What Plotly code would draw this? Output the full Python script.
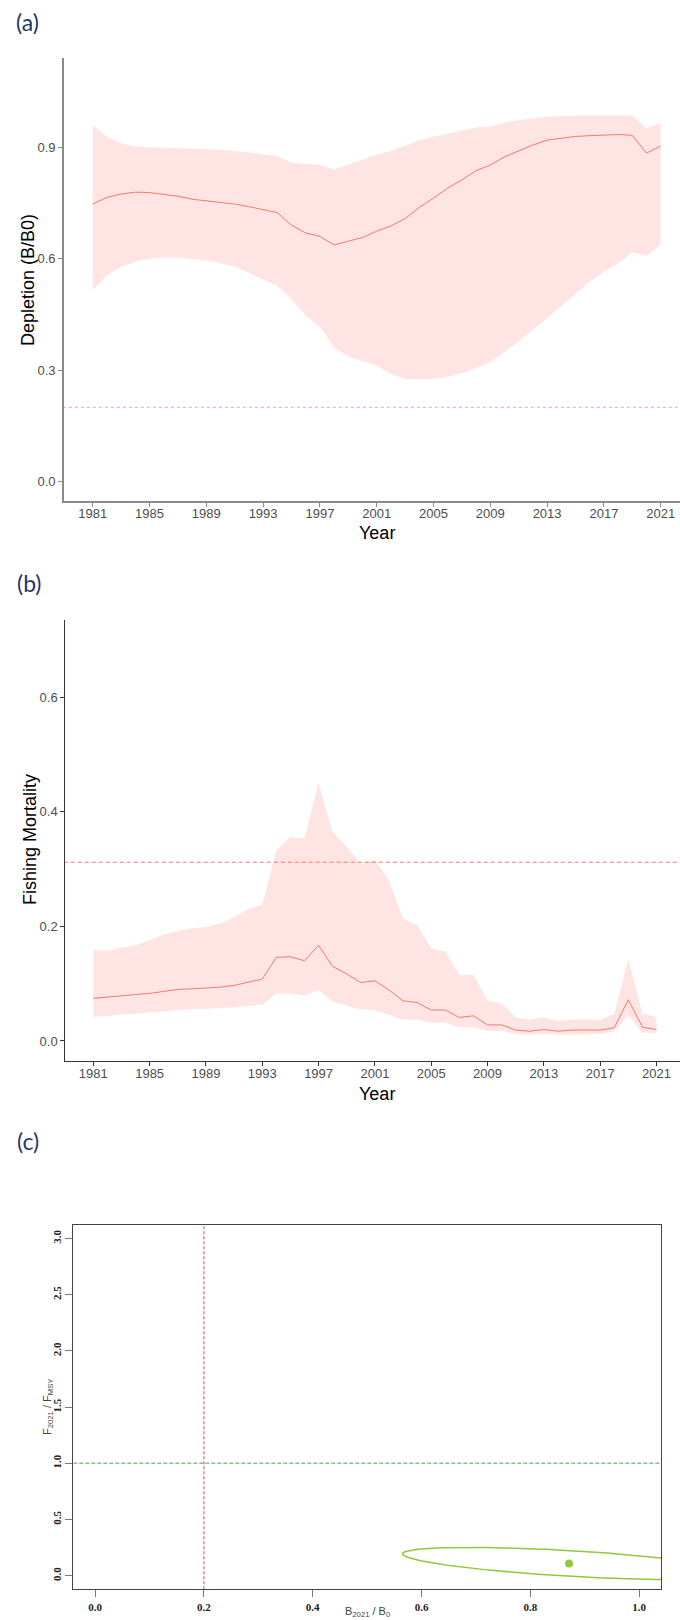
import numpy as np
import plotly.graph_objects as go

# ---------------- data ----------------
years = list(range(1981, 2022))

# (a) depletion B/B0: median and 95% interval
dep_mid = [0.747, 0.765, 0.774, 0.779, 0.778, 0.774, 0.768, 0.760, 0.756, 0.752,
           0.747, 0.740, 0.732, 0.724, 0.690, 0.669, 0.660, 0.637, 0.647, 0.657,
           0.674, 0.688, 0.708, 0.738, 0.763, 0.790, 0.812, 0.837, 0.852, 0.874,
           0.890, 0.906, 0.919, 0.925, 0.929, 0.931, 0.932, 0.934, 0.932, 0.884,
           0.903]
dep_hi = [0.960, 0.928, 0.910, 0.902, 0.900, 0.899, 0.898, 0.897, 0.896, 0.893,
          0.890, 0.886, 0.882, 0.876, 0.858, 0.855, 0.852, 0.840, 0.853, 0.866,
          0.880, 0.890, 0.903, 0.918, 0.928, 0.937, 0.946, 0.953, 0.956, 0.966,
          0.973, 0.978, 0.982, 0.984, 0.985, 0.985, 0.985, 0.985, 0.985, 0.951,
          0.966]
dep_lo = [0.516, 0.555, 0.578, 0.592, 0.600, 0.603, 0.603, 0.600, 0.595, 0.588,
          0.578, 0.562, 0.543, 0.527, 0.490, 0.448, 0.417, 0.362, 0.337, 0.325,
          0.312, 0.290, 0.276, 0.276, 0.276, 0.282, 0.292, 0.306, 0.322, 0.348,
          0.377, 0.408, 0.440, 0.472, 0.505, 0.538, 0.565, 0.588, 0.617, 0.608,
          0.637]
dep_ref = 0.2

# (b) fishing mortality: median and 95% interval
f_mid = [0.0745, 0.077, 0.079, 0.081, 0.083, 0.087, 0.090, 0.091, 0.092, 0.094,
         0.097, 0.103, 0.108, 0.146, 0.147, 0.140, 0.167, 0.130, 0.117, 0.102,
         0.105, 0.089, 0.070, 0.067, 0.054, 0.054, 0.041, 0.044, 0.028, 0.028,
         0.019, 0.017, 0.020, 0.017, 0.019, 0.019, 0.019, 0.023, 0.072, 0.024,
         0.020]
f_hi = [0.159, 0.157, 0.163, 0.167, 0.176, 0.186, 0.192, 0.197, 0.199, 0.205,
        0.216, 0.230, 0.238, 0.333, 0.356, 0.354, 0.450, 0.365, 0.339, 0.310,
        0.317, 0.280, 0.214, 0.202, 0.162, 0.156, 0.115, 0.115, 0.070, 0.066,
        0.041, 0.037, 0.041, 0.035, 0.038, 0.038, 0.037, 0.047, 0.143, 0.048,
        0.042]
f_lo = [0.042, 0.044, 0.046, 0.048, 0.050, 0.053, 0.055, 0.056, 0.056, 0.057,
        0.059, 0.061, 0.063, 0.083, 0.083, 0.079, 0.089, 0.069, 0.062, 0.055,
        0.054, 0.045, 0.037, 0.037, 0.032, 0.032, 0.024, 0.024, 0.018, 0.018,
        0.012, 0.011, 0.013, 0.011, 0.012, 0.012, 0.012, 0.017, 0.045, 0.0145,
        0.0145]
f_ref = 0.312

# (c) Kobe-style status: point estimate and confidence ellipse parameters
b_ratio = 0.871
f_ratio = 0.110
b_sd = 0.306
f_sd = 0.143
bf_corr = -0.6
b_limit = 0.2
f_limit = 1.0

year_ticks = list(range(1981, 2022, 4))

# ---------------- styling ----------------
W, H = 680, 1620
RED = "#F8766D"
BAND = "rgba(248,118,109,0.19)"
TICK_FONT = dict(family="Liberation Sans, Arial, sans-serif", size=13, color="#4D4D4D")
TITLE_FONT = dict(family="Liberation Sans, Arial, sans-serif", size=18, color="#000000")
PANEL_FONT = dict(family="Lato, Open Sans, sans-serif", size=23, color="#1F3864")
SERIF_TICK = dict(family="Liberation Serif, Times New Roman, serif", size=11,
                  color="#222222", weight="bold")


def px_x(p):
    return p / W


def px_y(p):
    return 1 - p / H


fig = go.Figure()

# ---- panel (a) ----
fig.add_trace(go.Scatter(x=years, y=dep_lo, mode="lines", line=dict(width=0),
                         xaxis="x", yaxis="y", hoverinfo="skip", showlegend=False))
fig.add_trace(go.Scatter(x=years, y=dep_hi, mode="lines", line=dict(width=0),
                         fill="tonexty", fillcolor=BAND,
                         xaxis="x", yaxis="y", hoverinfo="skip", showlegend=False))
fig.add_trace(go.Scatter(x=years, y=dep_mid, mode="lines",
                         line=dict(color=RED, width=1),
                         xaxis="x", yaxis="y", showlegend=False))
fig.add_trace(go.Scatter(x=[1978.9, 2022.4], y=[dep_ref, dep_ref], mode="lines",
                         line=dict(color="rgba(248,118,109,0.55)", width=1.2, dash="3px,3px"),
                         xaxis="x", yaxis="y", hoverinfo="skip", showlegend=False))

# ---- panel (b) ----
fig.add_trace(go.Scatter(x=years, y=f_lo, mode="lines", line=dict(width=0),
                         xaxis="x2", yaxis="y2", hoverinfo="skip", showlegend=False))
fig.add_trace(go.Scatter(x=years, y=f_hi, mode="lines", line=dict(width=0),
                         fill="tonexty", fillcolor=BAND,
                         xaxis="x2", yaxis="y2", hoverinfo="skip", showlegend=False))
fig.add_trace(go.Scatter(x=years, y=f_mid, mode="lines",
                         line=dict(color=RED, width=1),
                         xaxis="x2", yaxis="y2", showlegend=False))
fig.add_trace(go.Scatter(x=[1978.9, 2022.8], y=[f_ref, f_ref], mode="lines",
                         line=dict(color=RED, width=1, dash="4px,3px"),
                         xaxis="x2", yaxis="y2", hoverinfo="skip", showlegend=False))

# ---- panel (c) ----
t = np.linspace(0, 2 * np.pi, 240)
ell_x = b_ratio + b_sd * np.cos(t)
ell_y = f_ratio + f_sd * (bf_corr * np.cos(t) + np.sqrt(1 - bf_corr ** 2) * np.sin(t))
fig.add_trace(go.Scatter(x=[b_limit, b_limit], y=[-0.12, 3.12], mode="lines",
                         line=dict(color="#F08080", width=1.5, dash="3px,2px"),
                         xaxis="x3", yaxis="y3", hoverinfo="skip", showlegend=False))
fig.add_trace(go.Scatter(x=[-0.04, 1.04], y=[f_limit, f_limit], mode="lines",
                         line=dict(color="#8FBC8F", width=1.5, dash="4px,2px"),
                         xaxis="x3", yaxis="y3", hoverinfo="skip", showlegend=False))
fig.add_trace(go.Scatter(x=ell_x, y=ell_y, mode="lines",
                         line=dict(color="#92C83E", width=1.5),
                         xaxis="x3", yaxis="y3", hoverinfo="skip", showlegend=False))
fig.add_trace(go.Scatter(x=[b_ratio], y=[f_ratio], mode="markers",
                         marker=dict(color="#92C83E", size=8),
                         xaxis="x3", yaxis="y3", showlegend=False))

common_year_axis = dict(tickmode="array", tickvals=year_ticks,
                        ticktext=[str(y) for y in year_ticks],
                        ticks="outside", ticklen=4, ticklabelstandoff=-4,
                        showgrid=False, zeroline=False,
                        showline=True, tickfont=TICK_FONT)

fig.update_layout(
    width=W, height=H,
    margin=dict(l=0, r=0, t=0, b=0),
    paper_bgcolor="white", plot_bgcolor="white",
    xaxis=dict(domain=[px_x(64), 1.0], range=[1978.98, 2022.36], anchor="y",
               linecolor="#8A8A8A", linewidth=1.6, tickcolor="#8A8A8A",
               **common_year_axis),
    yaxis=dict(domain=[px_y(501), px_y(58)], range=[-0.052, 1.14], anchor="x",
               tickvals=[0.0, 0.3, 0.6, 0.9], ticktext=["0.0", "0.3", "0.6", "0.9"],
               ticks="outside", ticklen=4, showgrid=False, zeroline=False,
               showline=True, linecolor="#8A8A8A", linewidth=1.6, tickcolor="#8A8A8A",
               tickfont=TICK_FONT),
    xaxis2=dict(domain=[px_x(65.3), 1.0], range=[1979.01, 2022.67], anchor="y2",
                linecolor="#333333", linewidth=1, tickcolor="#333333",
                **common_year_axis),
    yaxis2=dict(domain=[px_y(1061), px_y(620)], range=[-0.035, 0.735], anchor="x2",
                tickvals=[0.0, 0.2, 0.4, 0.6], ticktext=["0.0", "0.2", "0.4", "0.6"],
                ticks="outside", ticklen=4, showgrid=False, zeroline=False,
                showline=True, linecolor="#333333", linewidth=1, tickcolor="#333333",
                tickfont=TICK_FONT),
    xaxis3=dict(domain=[px_x(73.3), px_x(661)], range=[-0.04, 1.04], anchor="y3",
                tickvals=[0.0, 0.2, 0.4, 0.6, 0.8, 1.0],
                ticktext=["0.0", "0.2", "0.4", "0.6", "0.8", "1.0"],
                ticks="outside", ticklen=7, showgrid=False, zeroline=False,
                showline=True, mirror=True, linecolor="#444444", linewidth=1,
                tickcolor="#777777", tickfont=SERIF_TICK),
    yaxis3=dict(domain=[px_y(1589.3), px_y(1225)], range=[-0.12, 3.12], anchor="x3",
                tickvals=[0.0, 0.5, 1.0, 1.5, 2.0, 2.5, 3.0],
                ticktext=["0.0", "0.5", "1.0", "1.5", "2.0", "2.5", "3.0"],
                tickangle=-90,
                ticks="outside", ticklen=7, showgrid=False, zeroline=False,
                showline=True, mirror=True, linecolor="#444444", linewidth=1,
                tickcolor="#777777", tickfont=SERIF_TICK),
)

annotations = [
    # panel tags
    dict(text="(a)", x=px_x(27), y=px_y(22), font=PANEL_FONT),
    dict(text="(b)", x=px_x(29), y=px_y(583), font=PANEL_FONT),
    dict(text="(c)", x=px_x(28), y=px_y(1141), font=PANEL_FONT),
    # axis titles
    dict(text="Depletion (B/B0)", x=px_x(28), y=px_y(280), textangle=-90, font=TITLE_FONT),
    dict(text="Year", x=px_x(377), y=px_y(533), font=TITLE_FONT),
    dict(text="Fishing Mortality", x=px_x(30), y=px_y(840), textangle=-90, font=TITLE_FONT),
    dict(text="Year", x=px_x(377), y=px_y(1094), font=TITLE_FONT),
    dict(text="F<sub>2021</sub> / F<sub>MSY</sub>", x=px_x(48), y=px_y(1407), textangle=-90,
         font=dict(family="Liberation Sans, Arial, sans-serif", size=11, color="#444444")),
    dict(text="B<sub>2021</sub> / B<sub>0</sub>", x=px_x(367), y=px_y(1612),
         font=dict(family="Liberation Sans, Arial, sans-serif", size=11, color="#444444")),
]
for a in annotations:
    a.update(xref="paper", yref="paper", showarrow=False,
             xanchor="center", yanchor="middle")
fig.update_layout(annotations=annotations)

fig.write_html("out.html")
